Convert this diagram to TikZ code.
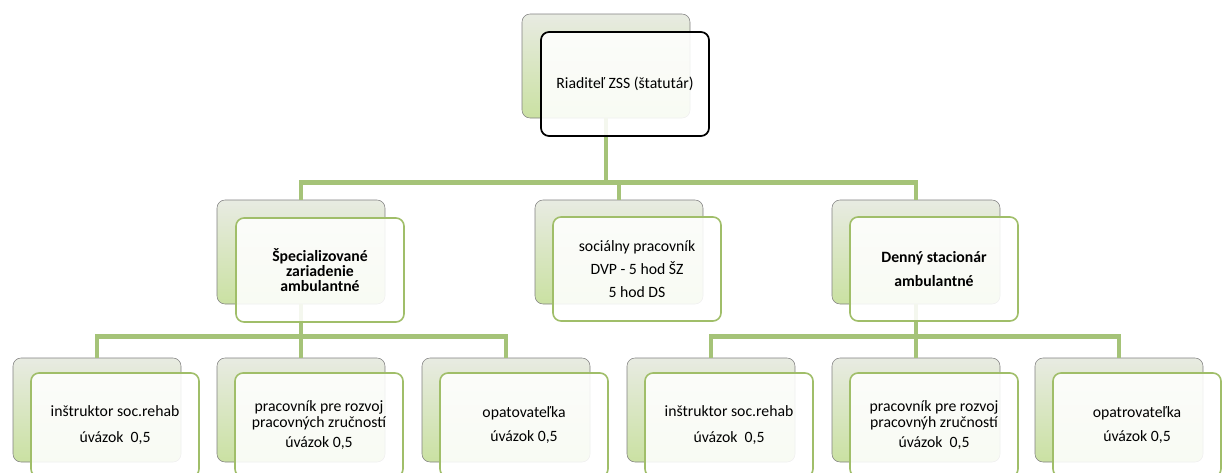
\documentclass[tikz,border=0pt]{standalone}
\usepackage{fontspec}
\setmainfont{Carlito}
\usepackage{xcolor}
\usepackage{tikz}
\usetikzlibrary{calc}

\definecolor{linegreen}{RGB}{165,195,120}
\definecolor{boxgreen}{RGB}{160,190,105}
\definecolor{shadetop}{RGB}{232,235,226}
\definecolor{shadebot}{RGB}{202,225,162}

\begin{document}
\begin{tikzpicture}[x=0.75pt,y=-0.75pt]
	\tikzstyle{back}=[rectangle, rounded corners=6pt, minimum width=126pt, minimum height=78pt, inner sep=0pt, top color=shadetop, bottom color=shadebot, draw=gray, thin]
	\tikzstyle{front}=[rectangle, rounded corners=6pt, minimum width=126pt, minimum height=78pt, inner sep=0pt, fill=white, fill opacity=0.88, text opacity=1, draw=boxgreen, line width=1.2pt, align=center, font=\fontsize{11.8}{12}\selectfont]
	\tikzstyle{frontbold}=[front, font=\fontsize{11.8}{12}\selectfont\bfseries]
	\tikzstyle{conn}=[draw=linegreen, line width=3.6pt]

	\useasboundingbox (0,0) rectangle (1222,472);
	\clip (0,0) rectangle (1222,472);

	% back boxes
	\node[back] (Rb) at (606,66) {};
	\node[back] (Sb) at (301,252) {};
	\node[back] (Pb) at (619,252) {};
	\node[back] (Db) at (916,252) {};
	\foreach \n/\x in {1/97,2/301,3/506,4/711,5/916,6/1119}
		\node[back] (B\n) at (\x,410) {};

	% connectors
	\foreach \j in {Sb,Pb,Db}{
		\draw[conn] (Rb.south) -- ++(0,64) -| (\j.north);
	}
	\foreach \j in {B1,B2,B3}{
		\draw[conn] (Sb.south) -- ++(0,32) -| (\j.north);
	}
	\foreach \j in {B4,B5,B6}{
		\draw[conn] (Db.south) -- ++(0,32) -| (\j.north);
	}

	% front boxes
	\node[front, draw=black, line width=1.3pt] (R) at ([shift={(19,18)}]Rb) {Riaditeľ ZSS (štatutár)};
	\node[frontbold] (S) at ([shift={(19,18)}]Sb) {Špecializované\\[-1pt]zariadenie\\[-1pt]ambulantné};
	\node[front] (P) at ([shift={(18,17)}]Pb) {sociálny pracovník\\[5.5pt]DVP - 5 hod ŠZ\\[5.5pt]5 hod DS};
	\node[frontbold] (D) at ([shift={(18,17)}]Db) {Denný stacionár\\[6.5pt]ambulantné};

	\node[front] (1) at ([shift={(18,15)}]B1) {inštruktor soc.rehab\\[7pt]úvázok\ \ 0,5};
	\node[front] (2) at ([shift={(18,15)}]B2) {pracovník pre rozvoj\\pracovných zručností\\[3pt]úvázok 0,5};
	\node[front] (3) at ([shift={(18,15)}]B3) {opatovateľka\\[6pt]úvázok 0,5};
	\node[front] (4) at ([shift={(18,15)}]B4) {inštruktor soc.rehab\\[7pt]úvázok\ \ 0,5};
	\node[front] (5) at ([shift={(18,15)}]B5) {pracovník pre rozvoj\\pracovnýh zručností\\[3pt]úvázok\ \ 0,5};
	\node[front] (6) at ([shift={(18,15)}]B6) {opatrovateľka\\[6pt]úvázok 0,5};
\end{tikzpicture}
\end{document}
